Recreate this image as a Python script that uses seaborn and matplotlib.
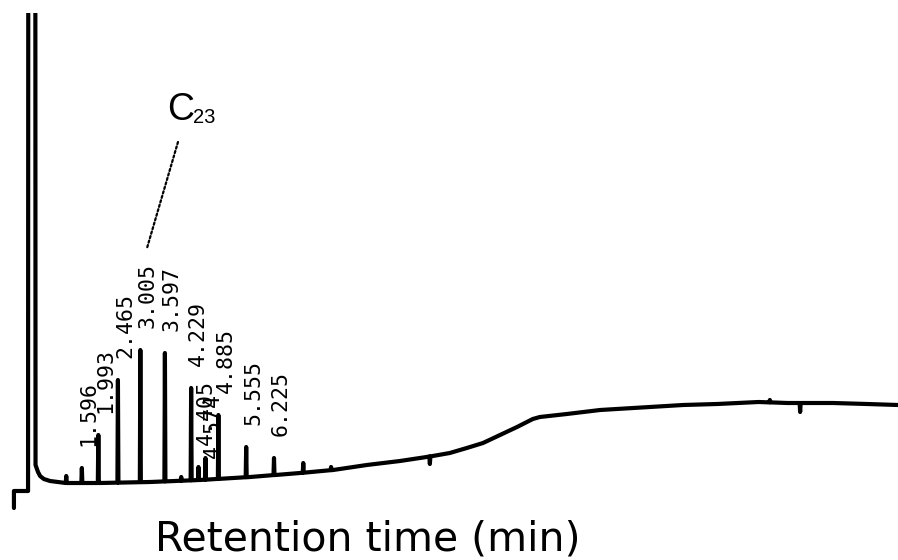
import numpy as np
import pandas as pd
import matplotlib
matplotlib.use("Agg")
import matplotlib.pyplot as plt
import seaborn as sns

# ---- data (time in min, signal in arbitrary units) ----
peak_times = [1.596, 1.993, 2.465, 3.005, 3.597, 4.229, 4.405, 4.574, 4.885, 5.555, 6.225]
peak_apex = [17, 50, 105, 135, 132, 97, 18, 27, 70, 38, 27]
peak_labels = ["1.596", "1.993", "2.465", "3.005", "3.597", "4.229",
               "4.405", "4.574", "4.885", "5.555", "6.225"]

# small unlabelled peaks / spikes / dips on the trace
minor_times = [1.22, 3.99, 6.93, 7.60, 9.98, 18.17, 18.90]
minor_apex = [9, 8, 22, 18, 21, 85, 73]

# start of trace and solvent front (off scale)
start_times = [-0.04, -0.04, 0.30, 0.33, 0.455, 0.48, 0.54, 0.59, 0.68, 0.83, 1.02]
start_signal = [-23, -6, -6, 3000, 3000, 20, 13, 9, 6, 4, 3]

# baseline drift
base_times = [1.30, 2.03, 3.24, 4.44, 5.65, 6.85, 7.65, 8.46, 9.26, 9.90, 10.46,
              10.87, 11.26, 11.67, 12.08, 12.46, 12.63, 13.28, 14.08, 15.28,
              16.08, 16.90, 17.90, 18.60, 19.69, 20.51, 21.26]
base_signal = [2, 2, 3, 5, 8, 12, 15, 20, 24, 28, 32,
               37, 42, 50, 58, 66, 68, 71, 75, 78,
               80, 81, 83, 82, 82, 81, 80]

C23_label = ("C", "23")
x_label = "Retention time (min)"

# ---- build trace ----
hw = 0.012
pts = []
for t, s in zip(base_times, base_signal):
    pts.append((t, s))
for t, a in zip(list(peak_times) + list(minor_times), list(peak_apex) + list(minor_apex)):
    b = float(np.interp(t, base_times, base_signal))
    pts.append((t - hw, b))
    pts.append((t, a))
    pts.append((t + hw, b))
pts.sort(key=lambda p: p[0])
trace_t = list(start_times) + [p[0] for p in pts]
trace_s = list(start_signal) + [p[1] for p in pts]
df = pd.DataFrame({"time": trace_t, "signal": trace_s})

sns.set_theme(style="white")
plt.rcParams["font.family"] = ["DejaVu Sans"]

W, H = 898, 560
fig = plt.figure(figsize=(W / 100, H / 100), dpi=100)
fig.patch.set_facecolor("white")
ax = fig.add_axes([0, 40 / H, 1, (520 - 13) / H])

x0, px_per_min = 15.6, 41.51
ax.set_xlim(-x0 / px_per_min, (W - x0) / px_per_min)
ax.set_ylim(-35, 472)

sns.lineplot(data=df, x="time", y="signal", sort=False, estimator=None,
             color="black", linewidth=3.0, ax=ax)
ax.axis("off")

# label placement (pixels above apex); the 4.574 label is printed lower
label_rise = [22, 22, 22, 22, 22, 22, 22, 0, 22, 22, 22]
for t, a, lab, dy in zip(peak_times, peak_apex, peak_labels, label_rise):
    ax.annotate(lab, xy=(t, a), xytext=(7, dy), textcoords="offset pixels",
                rotation=90, ha="center", va="bottom",
                family="DejaVu Sans Mono", fontsize=15.5, color="black")

# C23 annotation with dotted leader
ax.annotate("", xy=(3.166, 237), xytext=(3.912, 343),
            arrowprops=dict(arrowstyle="-", linestyle=(0, (1, 1.1)),
                            color="black", lw=1.6, shrinkA=0, shrinkB=0))
ax.text(3.647, 365, C23_label[0], fontsize=27, family="Liberation Sans",
        ha="left", va="baseline", color="black")
ax.text(4.274, 362, C23_label[1], fontsize=14.5, family="Liberation Sans",
        ha="left", va="baseline", color="black")

fig.text(155 / W, (H - 550) / H, x_label, fontsize=29.5, ha="left",
         va="baseline", color="black")

fig.savefig("out.png", dpi=100, facecolor="white")
